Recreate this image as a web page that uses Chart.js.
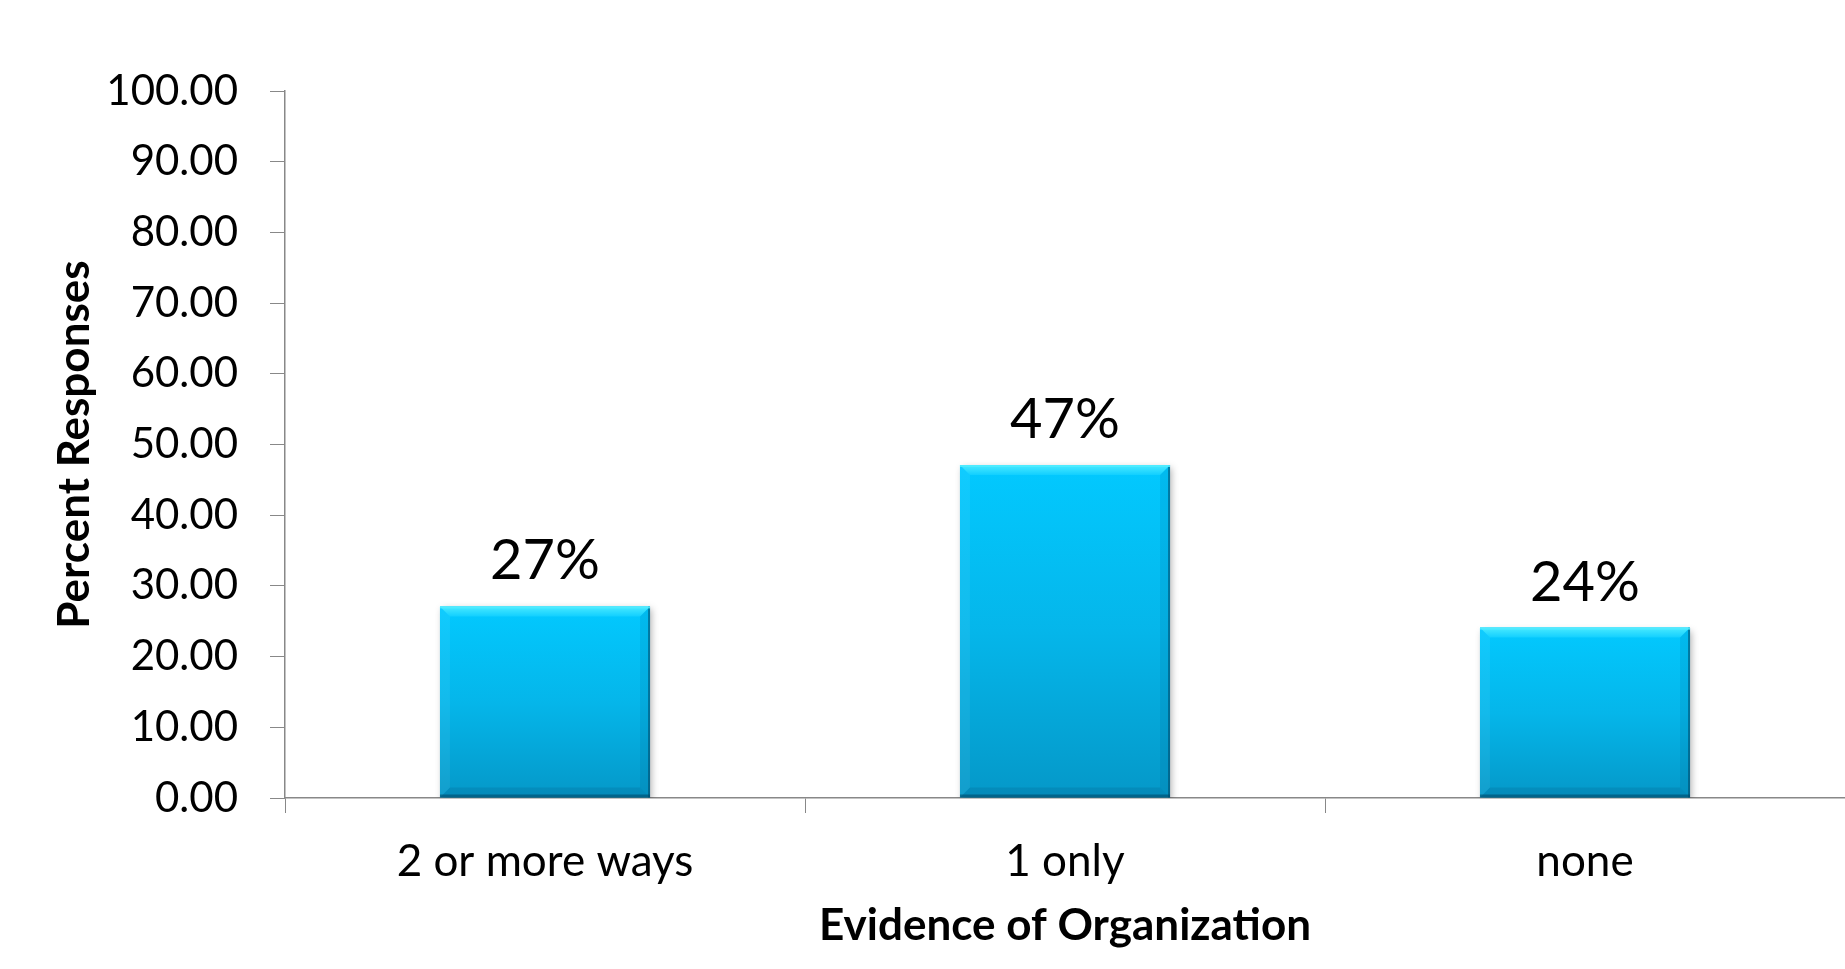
<!DOCTYPE html>
<html>
<head>
<meta charset="utf-8">
<script src="https://cdn.jsdelivr.net/npm/chart.js@4.4.1/dist/chart.umd.min.js"></script>
<style>
  html, body { margin: 0; padding: 0; background: #fff; }
  #wrap { width: 1845px; height: 969px; }
</style>
</head>
<body>
<div id="wrap"><canvas id="orgChart" width="1845" height="969"></canvas></div>
<script>
const categories = ['2 or more ways', '1 only', 'none'];
const percentValues = [27.1, 47.1, 24.1];
const valueLabels = ['27%', '47%', '24%'];
const yTicks = { min: 0, max: 100, step: 10 };

const FONT = 'Lato, "Open Sans", "Liberation Sans", sans-serif';

// vertical gradient for each bar, from its top down to the base
function barFill(ctx) {
  const chart = ctx.chart;
  const ys = chart.scales.y;
  if (!chart.chartArea || !ys || ctx.raw == null) return '#05b4e8';
  const top = ys.getPixelForValue(ctx.raw);
  const base = ys.getPixelForValue(0);
  const g = chart.ctx.createLinearGradient(0, top, 0, base);
  g.addColorStop(0, '#02c9ff');
  g.addColorStop(0.5, '#05b6ea');
  g.addColorStop(1, '#0598c8');
  return g;
}

// soft drop shadow under bars + bevel edges on top
const bevelPlugin = {
  id: 'bevel',
  beforeDatasetDraw(chart) {
    const c = chart.ctx;
    c.save();
    c.shadowColor = 'rgba(0,0,0,0.3)';
    c.shadowBlur = 7;
    c.shadowOffsetX = 2;
    c.shadowOffsetY = 3;
  },
  afterDatasetDraw(chart) {
    const c = chart.ctx;
    c.restore();
    const b = 10;
    chart.getDatasetMeta(0).data.forEach(el => {
      const l = el.x - el.width / 2, r = el.x + el.width / 2;
      const t = el.y, bo = el.base;
      const poly = (pts, fill) => {
        c.beginPath();
        c.moveTo(pts[0][0], pts[0][1]);
        for (let i = 1; i < pts.length; i++) c.lineTo(pts[i][0], pts[i][1]);
        c.closePath();
        c.fillStyle = fill;
        c.fill();
      };
      const tg = c.createLinearGradient(0, t, 0, t + b);
      tg.addColorStop(0, '#4aeaff');
      tg.addColorStop(1, '#12cfff');
      poly([[l, t], [r, t], [r - b, t + b], [l + b, t + b]], tg);
      poly([[l, t], [l + b, t + b], [l + b, bo - b], [l, bo]], 'rgba(255,255,255,0.06)');
      poly([[r, t], [r, bo], [r - b, bo - b], [r - b, t + b]], 'rgba(0,70,110,0.10)');
      poly([[l, bo], [r, bo], [r - b, bo - b], [l + b, bo - b]], 'rgba(0,60,100,0.14)');
      // dark rims on right and bottom
      c.fillStyle = 'rgba(0,70,100,0.55)';
      c.fillRect(r - 2, t, 2, bo - t);
      c.fillRect(l, bo - 3, r - l, 3);
      c.fillStyle = 'rgba(80,235,255,0.9)';
      c.fillRect(l, t, r - l, 2);
    });
  }
};

const valueLabelPlugin = {
  id: 'valueLabels',
  afterDatasetsDraw(chart) {
    const c = chart.ctx;
    c.save();
    c.font = '56px ' + FONT;
    c.fillStyle = '#000';
    c.textAlign = 'center';
    c.textBaseline = 'alphabetic';
    chart.getDatasetMeta(0).data.forEach((el, i) => {
      c.fillText(valueLabels[i], el.x, el.y - 27);
    });
    c.restore();
  }
};

new Chart(document.getElementById('orgChart'), {
  type: 'bar',
  data: {
    labels: categories,
    datasets: [{
      data: percentValues,
      backgroundColor: barFill,
      borderWidth: 0,
      barPercentage: 0.404,
      categoryPercentage: 1
    }]
  },
  plugins: [bevelPlugin, valueLabelPlugin],
  options: {
    responsive: false,
    animation: false,
    layout: { padding: { top: 91, right: 0, bottom: 0, left: 0 } },
    plugins: {
      legend: { display: false },
      tooltip: { enabled: false }
    },
    scales: {
      x: {
        grid: {
          offset: true,
          drawOnChartArea: false,
          drawTicks: true,
          tickLength: 15,
          color: '#888'
        },
        border: { color: '#888', width: 1.5 },
        ticks: {
          color: '#000',
          font: { family: FONT, size: 44 },
          padding: 22
        },
        title: {
          display: true,
          text: 'Evidence of Organization',
          color: '#000',
          font: { family: FONT, size: 44, weight: 'bold' },
          padding: { top: 0, bottom: 17 }
        },
        afterFit(scale) { scale.height = 171; }
      },
      y: {
        min: yTicks.min,
        max: yTicks.max,
        grid: {
          drawOnChartArea: false,
          drawTicks: true,
          tickLength: 15,
          color: '#888'
        },
        border: { color: '#888', width: 1.5 },
        ticks: {
          stepSize: yTicks.step,
          color: '#000',
          font: { family: FONT, size: 42 },
          padding: 32,
          callback: v => Number(v).toFixed(2)
        },
        title: {
          display: true,
          text: 'Percent Responses',
          color: '#000',
          font: { family: FONT, size: 44, weight: 'bold' },
          padding: { top: 48, bottom: 0 }
        },
        afterFit(scale) { scale.width = 285; }
      }
    }
  }
});
</script>
</body>
</html>
